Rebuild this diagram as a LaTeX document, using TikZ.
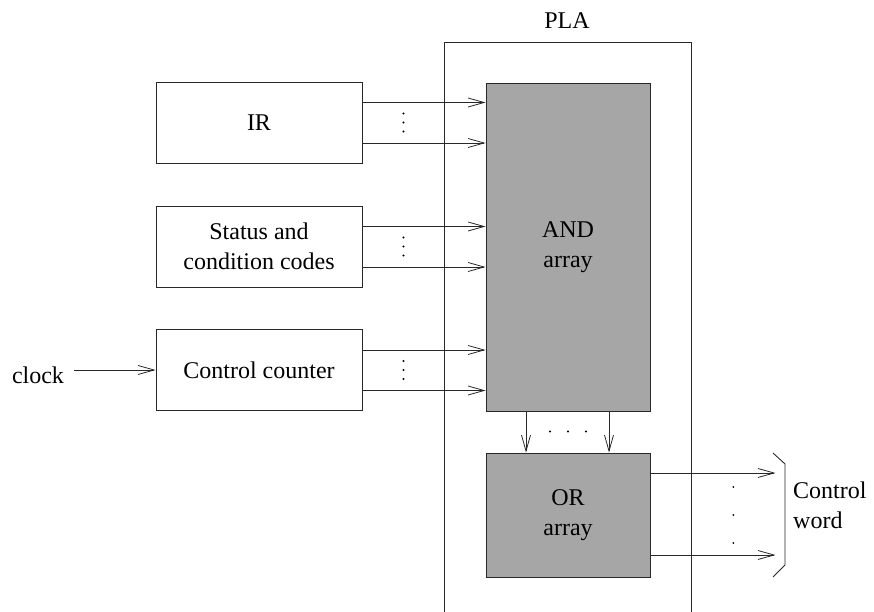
\documentclass[tikz,border=0pt]{standalone}
\usepackage{fontspec}
\setmainfont{Liberation Serif}
\usetikzlibrary{arrows.meta,calc}
\definecolor{arrgray}{RGB}{166,166,166}
\definecolor{linegray}{RGB}{40,40,40}
\tikzset{
  box/.style={draw=linegray, line width=0.9pt, minimum width=206pt, minimum height=81pt, inner sep=0pt, align=center},
  arrbox/.style={draw=linegray, line width=0.9pt, fill=arrgray, inner sep=0pt, align=center},
  arr/.style={draw=linegray, line width=0.8pt, -{Straight Barb[length=16pt,width=9pt,line width=0.8pt]}},
  lbl/.style={inner sep=0pt, align=left},
  dotm/.style={fill=black, circle, inner sep=0pt, minimum size=2.2pt}
}
\begin{document}
\begin{tikzpicture}[x=1pt,y=-1pt, font=\fontsize{24}{30}\selectfont]
\useasboundingbox (0,0) rectangle (874,612);
% PLA outline
\draw[linegray, line width=0.9pt] (444,612) -- (444,42) -- (691,42) -- (691,612);
\node[inner sep=0pt] (pla) at (567,21) {PLA};
% arrays
\node[arrbox, minimum width=164pt, minimum height=328pt] (AND) at (568,247) {AND\\array};
\node[arrbox, minimum width=164pt, minimum height=124pt] (OR) at (568,515) {OR\\array};
% input boxes
\node[box] (IR) at (259,122.5) {IR};
\node[box] (ST) at (259,246.5) {Status and\\condition codes};
\node[box] (CC) at (259,370) {Control counter};
% clock
\node[lbl, inner sep=0pt] (clk) at (38,375) {clock};
\draw[arr] ([xshift=10pt]clk.east |- CC.west) -- (CC.west);
% inputs to AND
\foreach \b in {IR,ST,CC}{
  \draw[arr] ([yshift=20pt]\b.east) -- ([yshift=20pt]\b.east -| AND.west);
  \draw[arr] ([yshift=-20.5pt]\b.east) -- ([yshift=-20.5pt]\b.east -| AND.west);
  \foreach \d in {-9,0,9}{
    \node[dotm] at ([xshift=41pt,yshift=\d pt]\b.east) {};
  }
}
% AND to OR
\draw[arr] ([xshift=-42pt]AND.south) -- ([xshift=-42pt]OR.north);
\draw[arr] ([xshift=41pt]AND.south) -- ([xshift=41pt]OR.north);
\foreach \d in {-18,0,18}{
  \node[dotm] at ([xshift=\d pt,yshift=-20pt]AND.south) {};
}
% OR outputs
\coordinate (o1) at ([yshift=42pt]OR.east);
\coordinate (o2) at ([yshift=-40pt]OR.east);
\draw[arr] (o1) -- ++(125,0) coordinate (e1);
\draw[arr] (o2) -- ++(125,0) coordinate (e2);
\foreach \d in {-28,0,28}{
  \node[dotm, minimum size=2pt] at ([xshift=83pt,yshift=\d pt]OR.east) {};
}
% bracket
\draw[linegray, line width=0.9pt] (773,453) -- (785,464) -- (785,565) -- (773,577);
\node[lbl, anchor=west] (cw) at (793,505) {Control\\word};
\end{tikzpicture}
\end{document}
